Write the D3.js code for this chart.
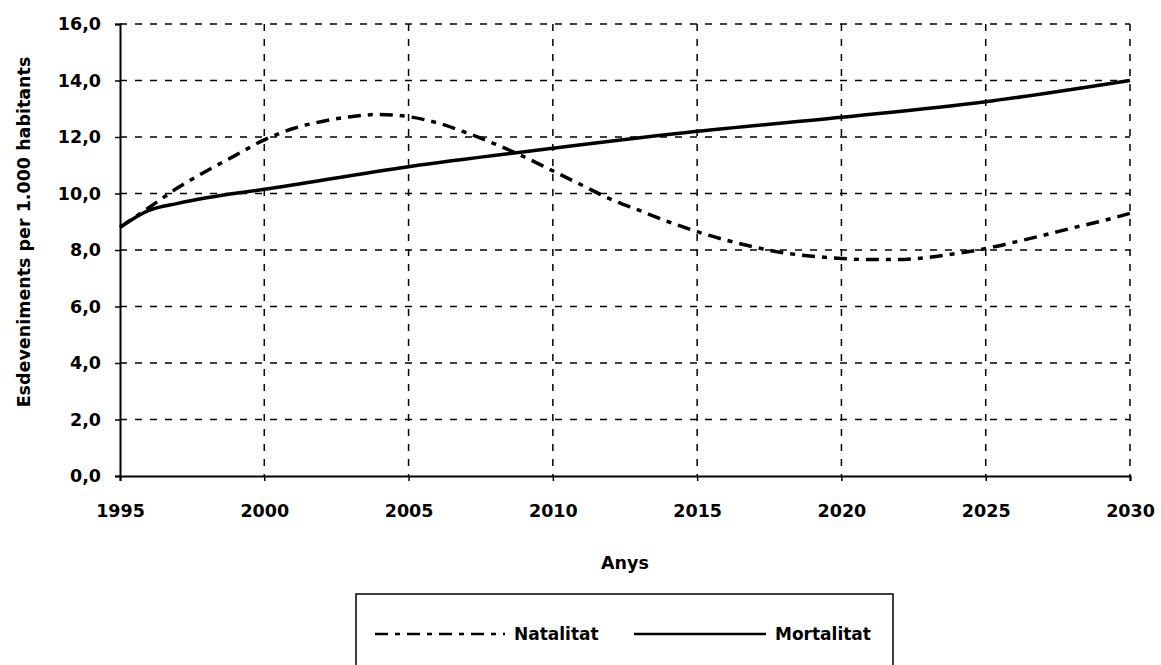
<!DOCTYPE html>
<html>
<head>
<meta charset="utf-8">
<script src="https://cdn.jsdelivr.net/npm/d3@7"></script>
<style>
  body { margin: 0; background: #fff; }
  svg { display: block; font-family: "DejaVu Sans", "Liberation Sans", Arial, sans-serif; }
</style>
</head>
<body>
<svg id="chart" width="1161" height="665"></svg>
<script>
// Data
const years = d3.range(1995, 2031);
const natalitat = [8.8, 9.5, 10.2, 10.8, 11.35, 11.9, 12.3, 12.55, 12.72, 12.8,
                   12.72, 12.5, 12.15, 11.75, 11.3, 10.8, 10.3, 9.8, 9.4, 9.0,
                   8.65, 8.35, 8.1, 7.9, 7.78, 7.7, 7.66, 7.66, 7.74, 7.88,
                   8.05, 8.28, 8.52, 8.78, 9.02, 9.3];
const mortYears = [1995, 1996, 1997, 1998, 2000, 2005, 2010, 2015, 2020, 2025, 2030];
const mortalitat = [8.8, 9.4, 9.65, 9.85, 10.15, 10.95, 11.6, 12.2, 12.7, 13.25, 14.0];
const xTicks = [1995, 2000, 2005, 2010, 2015, 2020, 2025, 2030];
const yTicks = [0, 2, 4, 6, 8, 10, 12, 14, 16];
const seriesNames = ["Natalitat", "Mortalitat"];

const svg = d3.select("#chart");
const margin = {left: 120, right: 31, top: 24, bottom: 189};
const width = 1161 - margin.left - margin.right;
const height = 665 - margin.top - margin.bottom;
const fontFamily = "DejaVu Sans, Liberation Sans, Arial, sans-serif";

const x = d3.scaleLinear().domain([1995, 2030]).range([0, width]);
const y = d3.scaleLinear().domain([0, 16]).range([height, 0]);

const g = svg.append("g").attr("transform", `translate(${margin.left},${margin.top})`);

// Grid lines
g.append("g").selectAll("line")
  .data(yTicks.filter(d => d > 0))
  .enter().append("line")
  .attr("x1", 0).attr("x2", width)
  .attr("y1", d => y(d)).attr("y2", d => y(d))
  .attr("stroke", "#000").attr("stroke-width", 1.3)
  .attr("stroke-dasharray", "7,8");

g.append("g").selectAll("line")
  .data(xTicks.filter(d => d > 1995))
  .enter().append("line")
  .attr("x1", d => x(d)).attr("x2", d => x(d))
  .attr("y1", 0).attr("y2", height)
  .attr("stroke", "#000").attr("stroke-width", 1.5)
  .attr("stroke-dasharray", "7,8");

// Axes
const fmt = d => d.toFixed(1).replace(".", ",");
const yAxis = g.append("g")
  .call(d3.axisLeft(y).tickValues(yTicks).tickFormat(fmt).tickSize(5).tickPadding(14));
const xAxis = g.append("g")
  .attr("transform", `translate(0,${height})`)
  .call(d3.axisBottom(x).tickValues(xTicks).tickFormat(d3.format("d")).tickSize(5).tickPadding(24));
[yAxis, xAxis].forEach(a => {
  a.attr("font-family", fontFamily).attr("font-size", 17.5).attr("font-weight", "bold");
  a.select(".domain").attr("stroke", "#000").attr("stroke-width", 2);
  a.selectAll(".tick line").attr("stroke", "#000").attr("stroke-width", 1.5);
  a.selectAll(".tick text").attr("fill", "#000");
});

// Lines
const line = d3.line().curve(d3.curveMonotoneX);
g.append("path")
  .attr("d", line(years.map((yr, i) => [x(yr), y(natalitat[i])])))
  .attr("fill", "none").attr("stroke", "#000").attr("stroke-width", 3.5)
  .attr("stroke-dasharray", "13,7,5,7");
g.append("path")
  .attr("d", line(mortYears.map((yr, i) => [x(yr), y(mortalitat[i])])))
  .attr("fill", "none").attr("stroke", "#000").attr("stroke-width", 3.5);

// Axis titles
svg.append("text")
  .attr("transform", "translate(30,232) rotate(-90)")
  .attr("text-anchor", "middle")
  .style("font-size", "17.5px").style("font-weight", "bold")
  .text("Esdeveniments per 1.000 habitants");
svg.append("text")
  .attr("x", 625).attr("y", 569)
  .attr("text-anchor", "middle")
  .style("font-size", "17.5px").style("font-weight", "bold")
  .text("Anys");

// Legend
const legend = svg.append("g");
legend.append("rect")
  .attr("x", 356).attr("y", 594).attr("width", 537).attr("height", 90)
  .attr("fill", "none").attr("stroke", "#000").attr("stroke-width", 1.5);
const legendItems = [
  {name: seriesNames[0], x1: 375, x2: 505, dash: "13,7,5,7"},
  {name: seriesNames[1], x1: 634, x2: 766, dash: null}
];
legendItems.forEach(d => {
  legend.append("line")
    .attr("x1", d.x1).attr("x2", d.x2).attr("y1", 634).attr("y2", 634)
    .attr("stroke", "#000").attr("stroke-width", 2.5)
    .attr("stroke-dasharray", d.dash);
  legend.append("text")
    .attr("x", d.x2 + 9).attr("y", 640)
    .style("font-size", "17px").style("font-weight", "bold")
    .text(d.name);
});
</script>
</body>
</html>
